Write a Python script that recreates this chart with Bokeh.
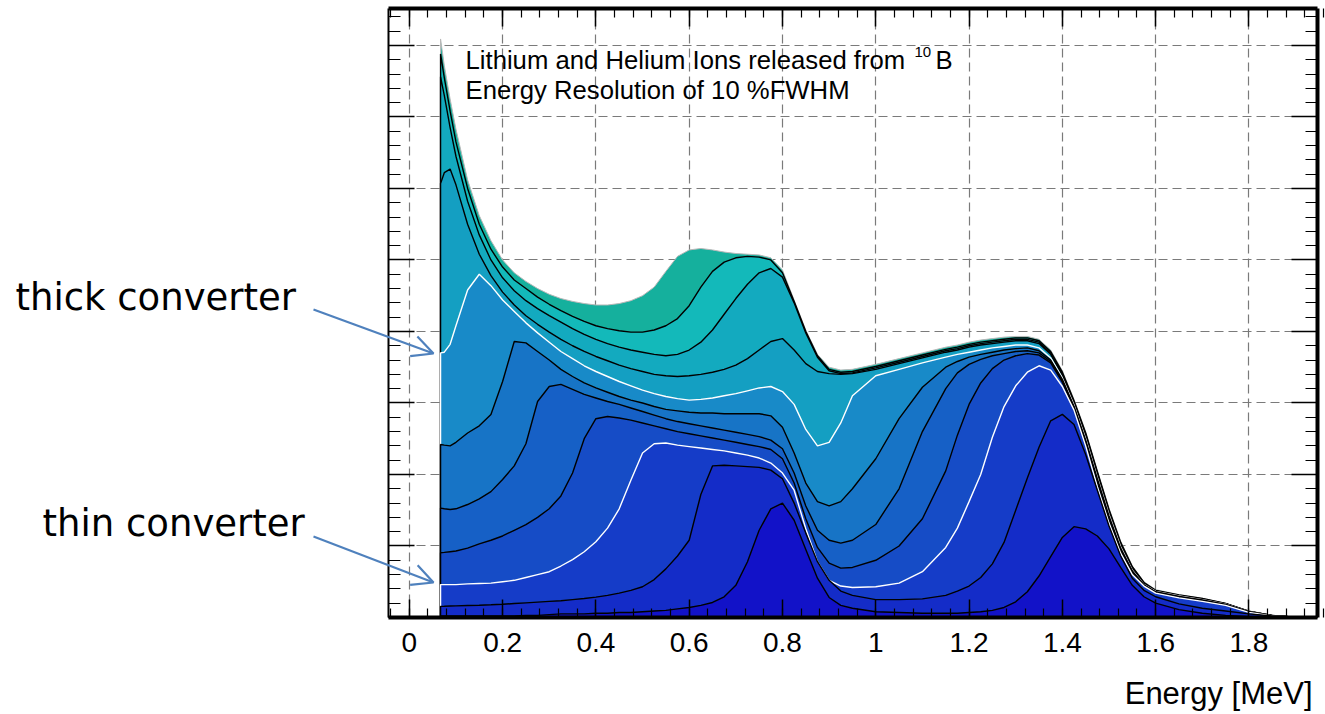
from bokeh.plotting import figure
from bokeh.models import Range1d, LinearAxis, FixedTicker, Label, Arrow, OpenHead, Grid
from bokeh.embed import file_html
from bokeh.resources import INLINE

# ---------------- data ----------------
energy_mev = [0.067, 0.075, 0.0875, 0.1, 0.125, 0.15, 0.175,
              0.2, 0.225, 0.25, 0.275, 0.3, 0.325, 0.35, 0.375, 0.4, 0.425,
              0.45, 0.475, 0.5, 0.525, 0.55, 0.575, 0.6, 0.625, 0.65, 0.675,
              0.7, 0.725, 0.75, 0.775, 0.8, 0.825, 0.85, 0.875, 0.9, 0.925, 0.95,
              1.0, 1.05, 1.1, 1.15, 1.175, 1.2, 1.225, 1.25, 1.275, 1.3,
              1.325, 1.35, 1.375, 1.4, 1.425, 1.45, 1.475, 1.5, 1.525, 1.55,
              1.575, 1.6, 1.65, 1.7, 1.75, 1.8, 1.85, 1.9]

# thinnest converter
layer_1 = [0.02, 0.02, 0.02, 0.02, 0.02, 0.02, 0.02,
           0.02, 0.02, 0.03, 0.03, 0.04, 0.05, 0.05, 0.05, 0.06, 0.06,
           0.07, 0.07, 0.08, 0.09, 0.10, 0.12, 0.14, 0.17, 0.21, 0.29,
           0.45, 0.78, 1.22, 1.52, 1.60, 1.36, 0.95, 0.55, 0.28, 0.17, 0.13,
           0.08, 0.07, 0.06, 0.06, 0.06, 0.07, 0.08, 0.10, 0.14, 0.22,
           0.36, 0.58, 0.85, 1.12, 1.27, 1.24, 1.14, 0.96, 0.70, 0.45,
           0.29, 0.20, 0.11, 0.06, 0.03, 0.01, 0.0, 0.0]
layer_2 = [0.156, 0.157, 0.16, 0.162, 0.167, 0.172, 0.178,
           0.185, 0.195, 0.205, 0.215, 0.225, 0.235, 0.25, 0.265, 0.285, 0.31,
           0.34, 0.38, 0.43, 0.53, 0.68, 0.86, 1.08, 1.72, 2.12, 2.13,
           2.12, 2.11, 2.10, 2.06, 1.94, 1.60, 1.18, 0.78, 0.52, 0.37, 0.31,
           0.25, 0.25, 0.26, 0.31, 0.37, 0.44, 0.56, 0.75, 1.05, 1.50,
           1.95, 2.38, 2.75, 2.84, 2.70, 2.28, 1.78, 1.28, 0.86, 0.55,
           0.38, 0.29, 0.19, 0.13, 0.09, 0.05, 0.02, 0.005]
# thin converter (white line)
layer_3 = [0.46, 0.46, 0.46, 0.46, 0.47, 0.475, 0.48,
           0.50, 0.52, 0.56, 0.60, 0.64, 0.72, 0.81, 0.92, 1.06, 1.25,
           1.52, 1.92, 2.30, 2.43, 2.44, 2.41, 2.39, 2.37, 2.35, 2.33,
           2.30, 2.27, 2.23, 2.16, 2.02, 1.78, 1.24, 0.78, 0.52, 0.44, 0.42,
           0.43, 0.48, 0.64, 0.98, 1.25, 1.62, 2.0, 2.52, 2.95, 3.24,
           3.43, 3.52, 3.46, 3.23, 2.90, 2.40, 1.83, 1.32, 0.90, 0.60,
           0.44, 0.34, 0.275, 0.225, 0.17, 0.072, 0.022, 0.005]
layer_4 = [0.905, 0.91, 0.92, 0.93, 0.97, 1.03, 1.08,
           1.14, 1.22, 1.30, 1.40, 1.52, 1.70, 2.02, 2.50, 2.78, 2.81,
           2.79, 2.76, 2.72, 2.68, 2.64, 2.60, 2.57, 2.54, 2.51, 2.48,
           2.45, 2.42, 2.39, 2.35, 2.22, 1.88, 1.38, 0.98, 0.76, 0.69, 0.70,
           0.80, 1.0, 1.38, 2.05, 2.55, 2.98, 3.28, 3.48, 3.60, 3.66,
           3.69, 3.67, 3.56, 3.29, 2.92, 2.44, 1.89, 1.37, 0.93, 0.62,
           0.445, 0.35, 0.285, 0.235, 0.177, 0.076, 0.023, 0.005]
layer_5 = [1.53, 1.52, 1.51, 1.52, 1.58, 1.66, 1.76,
           1.93, 2.12, 2.43, 3.02, 3.23, 3.26, 3.19, 3.12, 3.07, 3.02,
           2.98, 2.93, 2.88, 2.83, 2.78, 2.74, 2.71, 2.68, 2.65, 2.62,
           2.59, 2.56, 2.53, 2.48, 2.36, 2.02, 1.56, 1.22, 1.08, 1.04, 1.08,
           1.30, 1.80, 2.60, 3.20, 3.42, 3.54, 3.61, 3.66, 3.69, 3.72,
           3.73, 3.70, 3.58, 3.31, 2.94, 2.46, 1.91, 1.39, 0.95, 0.64,
           0.45, 0.355, 0.29, 0.24, 0.18, 0.078, 0.024, 0.005]
layer_6 = [2.42, 2.41, 2.40, 2.45, 2.58, 2.68, 2.84,
           3.30, 3.86, 3.84, 3.72, 3.60, 3.47, 3.37, 3.28, 3.21, 3.15,
           3.09, 3.04, 3.00, 2.95, 2.91, 2.89, 2.87, 2.86, 2.86, 2.85,
           2.85, 2.85, 2.85, 2.82, 2.66, 2.30, 1.88, 1.62, 1.56, 1.62, 1.80,
           2.22, 2.78, 3.22, 3.50, 3.58, 3.64, 3.68, 3.71, 3.74, 3.76,
           3.77, 3.73, 3.60, 3.33, 2.95, 2.48, 1.94, 1.42, 0.97, 0.65,
           0.455, 0.36, 0.295, 0.245, 0.184, 0.08, 0.025, 0.005]
# thick converter (white line)
layer_7 = [3.70, 3.71, 3.82, 4.08, 4.58, 4.80, 4.64,
           4.44, 4.28, 4.12, 3.98, 3.85, 3.72, 3.62, 3.52, 3.44, 3.37,
           3.30, 3.24, 3.18, 3.13, 3.09, 3.06, 3.04, 3.05, 3.07, 3.10,
           3.13, 3.17, 3.21, 3.23, 3.16, 2.98, 2.63, 2.40, 2.45, 2.72, 3.10,
           3.38, 3.47, 3.56, 3.64, 3.68, 3.71, 3.74, 3.77, 3.79, 3.81,
           3.81, 3.77, 3.63, 3.35, 2.97, 2.50, 1.96, 1.44, 0.99, 0.66,
           0.46, 0.365, 0.30, 0.25, 0.187, 0.082, 0.026, 0.005]
layer_8 = [6.07, 6.22, 6.27, 6.05, 5.50, 5.08, 4.78,
           4.55, 4.37, 4.22, 4.10, 3.99, 3.89, 3.80, 3.72, 3.65, 3.59,
           3.53, 3.48, 3.44, 3.40, 3.38, 3.37, 3.38, 3.40, 3.43, 3.47,
           3.53, 3.62, 3.74, 3.86, 3.90, 3.74, 3.55, 3.44, 3.41, 3.40, 3.41,
           3.47, 3.55, 3.63, 3.71, 3.74, 3.78, 3.81, 3.83, 3.85, 3.87,
           3.87, 3.83, 3.68, 3.39, 2.99, 2.54, 2.00, 1.47, 1.01, 0.68,
           0.47, 0.37, 0.305, 0.255, 0.19, 0.084, 0.027, 0.005]
layer_9 = [7.56, 7.30, 6.85, 6.45, 5.82, 5.35, 5.00,
           4.75, 4.57, 4.43, 4.32, 4.22, 4.13, 4.04, 3.96, 3.89, 3.83,
           3.78, 3.74, 3.71, 3.68, 3.66, 3.68, 3.74, 3.85, 4.02, 4.24,
           4.46, 4.66, 4.82, 4.88, 4.76, 4.40, 3.98, 3.64, 3.45, 3.41, 3.42,
           3.49, 3.57, 3.65, 3.73, 3.76, 3.80, 3.83, 3.85, 3.87, 3.89,
           3.89, 3.85, 3.70, 3.41, 3.01, 2.56, 2.02, 1.49, 1.03, 0.69,
           0.48, 0.375, 0.31, 0.26, 0.194, 0.086, 0.028, 0.005]
layer_10 = [7.88, 7.55, 7.08, 6.65, 6.00, 5.50, 5.15,
            4.90, 4.72, 4.60, 4.48, 4.38, 4.29, 4.21, 4.14, 4.08, 4.04,
            4.01, 3.99, 3.99, 4.02, 4.08, 4.18, 4.36, 4.62, 4.84, 4.97,
            5.03, 5.05, 5.04, 5.00, 4.82, 4.42, 4.00, 3.66, 3.47, 3.43, 3.44,
            3.51, 3.59, 3.67, 3.75, 3.78, 3.82, 3.85, 3.87, 3.89, 3.91,
            3.91, 3.87, 3.72, 3.43, 3.03, 2.58, 2.04, 1.51, 1.05, 0.71,
            0.49, 0.38, 0.315, 0.265, 0.197, 0.088, 0.029, 0.005]
# thickest converter (outer envelope)
layer_11 = [8.09, 7.72, 7.25, 6.83, 6.12, 5.62, 5.27,
            5.00, 4.82, 4.70, 4.60, 4.52, 4.46, 4.42, 4.39, 4.37, 4.37,
            4.39, 4.43, 4.50, 4.62, 4.84, 5.05, 5.14, 5.16, 5.14, 5.11,
            5.09, 5.08, 5.07, 5.03, 4.86, 4.44, 4.02, 3.68, 3.50, 3.46, 3.47,
            3.54, 3.62, 3.70, 3.78, 3.81, 3.85, 3.88, 3.90, 3.92, 3.93,
            3.93, 3.89, 3.74, 3.45, 3.05, 2.60, 2.06, 1.53, 1.07, 0.72,
            0.50, 0.39, 0.32, 0.27, 0.20, 0.09, 0.03, 0.005]

layers = [layer_1, layer_2, layer_3, layer_4, layer_5, layer_6,
          layer_7, layer_8, layer_9, layer_10, layer_11]
fill_colors = ["#1212c8", "#142cc8", "#153cc8", "#164cc6", "#1660c6", "#1774c6",
               "#188ac8", "#149fc2", "#13aabf", "#13b9ba", "#15b09d"]
line_colors = ["black", "black", "white", "black", "black", "black",
               "white", "black", "black", "black", "#b8b8b8"]

x_ticks = [0, 0.2, 0.4, 0.6, 0.8, 1.0, 1.2, 1.4, 1.6, 1.8]
x_tick_labels = ["0", "0.2", "0.4", "0.6", "0.8", "1", "1.2", "1.4", "1.6", "1.8"]
y_ticks = [0, 1, 2, 3, 4, 5, 6, 7, 8]

for lay in layers:
    assert len(lay) == len(energy_mev)

# plot box (data units) and its place on the 1325 x 714 canvas
BOX_X = (-0.0446, 1.947)
BOX_Y = (0.0, 8.516)
W, H = 1325, 714
BOX_LEFT, BOX_RIGHT, BOX_TOP, BOX_BOTTOM = 388, 1317, 8, 617
sx = (BOX_RIGHT - BOX_LEFT) / (BOX_X[1] - BOX_X[0])
sy = (BOX_BOTTOM - BOX_TOP) / (BOX_Y[1] - BOX_Y[0])
X_RANGE = (BOX_X[0] - BOX_LEFT / sx, BOX_X[1] + (W - BOX_RIGHT) / sx)
Y_RANGE = (BOX_Y[0] - (H - BOX_BOTTOM) / sy, BOX_Y[1] + BOX_TOP / sy)


def px_x(px):
    return X_RANGE[0] + px / sx


def px_y(py):
    return Y_RANGE[1] - py / sy


x_minor = [round(-0.04 + 0.04 * i, 2) for i in range(51)]
y_minor = [round(0.2 * i, 1) for i in range(43)]

p = figure(width=W, height=H,
           x_range=Range1d(*X_RANGE), y_range=Range1d(*Y_RANGE),
           output_backend="svg", toolbar_location=None, min_border=0,
           x_axis_location=None, y_axis_location=None)
p.background_fill_color = "white"
p.border_fill_color = "white"
p.outline_line_color = None
for g in p.grid:
    g.visible = False

xt = FixedTicker(ticks=x_ticks, minor_ticks=x_minor)
yt = FixedTicker(ticks=y_ticks, minor_ticks=y_minor)

# dashed grid limited to the plot box
try:
    xg = Grid(dimension=0, ticker=xt, bounds=BOX_X, cross_bounds=BOX_Y)
    yg = Grid(dimension=1, ticker=yt, bounds=BOX_Y, cross_bounds=BOX_X)
    for g in (xg, yg):
        g.grid_line_color = "#7a7a7a"
        g.grid_line_dash = "9 5"
        g.grid_line_width = 1.2
        p.add_layout(g)
except Exception:
    p.segment(x0=x_ticks, y0=BOX_Y[0], x1=x_ticks, y1=BOX_Y[1],
              line_color="#7a7a7a", line_dash="9 5", line_width=1.2)
    p.segment(x0=BOX_X[0], y0=y_ticks, x1=BOX_X[1], y1=y_ticks,
              line_color="#7a7a7a", line_dash="9 5", line_width=1.2)

# draw from thickest (largest) to thinnest
for k in range(len(layers) - 1, -1, -1):
    vals = layers[k]
    p.varea(x=energy_mev, y1=0, y2=vals, fill_color=fill_colors[k])
    p.line(x=[energy_mev[0]] + energy_mev, y=[0.0] + vals,
           line_color=line_colors[k], line_width=1.4 if k < 10 else 1.0)

# frame axes: the bottom one carries the labels, the others only tick marks
bottom = LinearAxis(fixed_location=BOX_Y[0], bounds=BOX_X, ticker=xt,
                    major_tick_in=18, major_tick_out=0, minor_tick_in=9, minor_tick_out=0,
                    axis_line_width=4, major_tick_line_width=1.5, minor_tick_line_width=1.2,
                    major_label_text_font="Liberation Sans", major_label_text_font_size="28px",
                    major_label_text_color="black", major_label_standoff=15)
bottom.major_label_overrides = dict(zip(x_ticks, x_tick_labels))
p.add_layout(bottom, "below")


def tick_only_axes(side, loc, bounds, majors, minors, major_len, minor_len, line_w):
    long_ticks = LinearAxis(fixed_location=loc, bounds=bounds,
                            ticker=FixedTicker(ticks=[], minor_ticks=majors),
                            minor_tick_in=major_len, minor_tick_out=0,
                            minor_tick_line_width=1.5, major_tick_line_color=None,
                            axis_line_width=line_w)
    short_ticks = LinearAxis(fixed_location=loc, bounds=bounds,
                             ticker=FixedTicker(ticks=[], minor_ticks=minors),
                             minor_tick_in=minor_len, minor_tick_out=0,
                             minor_tick_line_width=1.2, major_tick_line_color=None,
                             axis_line_color=None)
    p.add_layout(long_ticks, side)
    p.add_layout(short_ticks, side)


tick_only_axes("above", BOX_Y[1], BOX_X, x_ticks, x_minor, 18, 9, 4)
tick_only_axes("left", BOX_X[0], BOX_Y, y_ticks, y_minor, 26, 12, 2)
tick_only_axes("right", BOX_X[1], BOX_Y, y_ticks, y_minor, 26, 12, 4)


# texts
def add_text(px, py, text, font, size, align="left"):
    p.add_layout(Label(x=px_x(px), y=px_y(py), text=text, text_font=font,
                       text_font_size=size, text_align=align,
                       text_baseline="middle", text_color="black"))


add_text(465, 59, "Lithium and Helium Ions released from", "Liberation Sans", "25.7px")
add_text(914, 51, "10", "Liberation Sans", "15px")
add_text(935, 59, "B", "Liberation Sans", "25.7px")
add_text(465, 89, "Energy Resolution of 10 %FWHM", "Liberation Sans", "25.7px")
add_text(1312, 693, "Energy [MeV]", "Liberation Sans", "31px", align="right")
add_text(15, 297, "thick converter", "DejaVu Sans", "37px")
add_text(42, 523, "thin converter", "DejaVu Sans", "37px")

arrow_color = "#4f81bd"
for (x0, y0, x1, y1) in [(313, 309, 433, 353), (313, 536, 433, 582)]:
    p.add_layout(Arrow(end=OpenHead(line_color=arrow_color, line_width=2.2, size=21),
                       x_start=px_x(x0), y_start=px_y(y0),
                       x_end=px_x(x1), y_end=px_y(y1),
                       line_color=arrow_color, line_width=2.2))

open("out.html", "w").write(file_html(p, INLINE))
